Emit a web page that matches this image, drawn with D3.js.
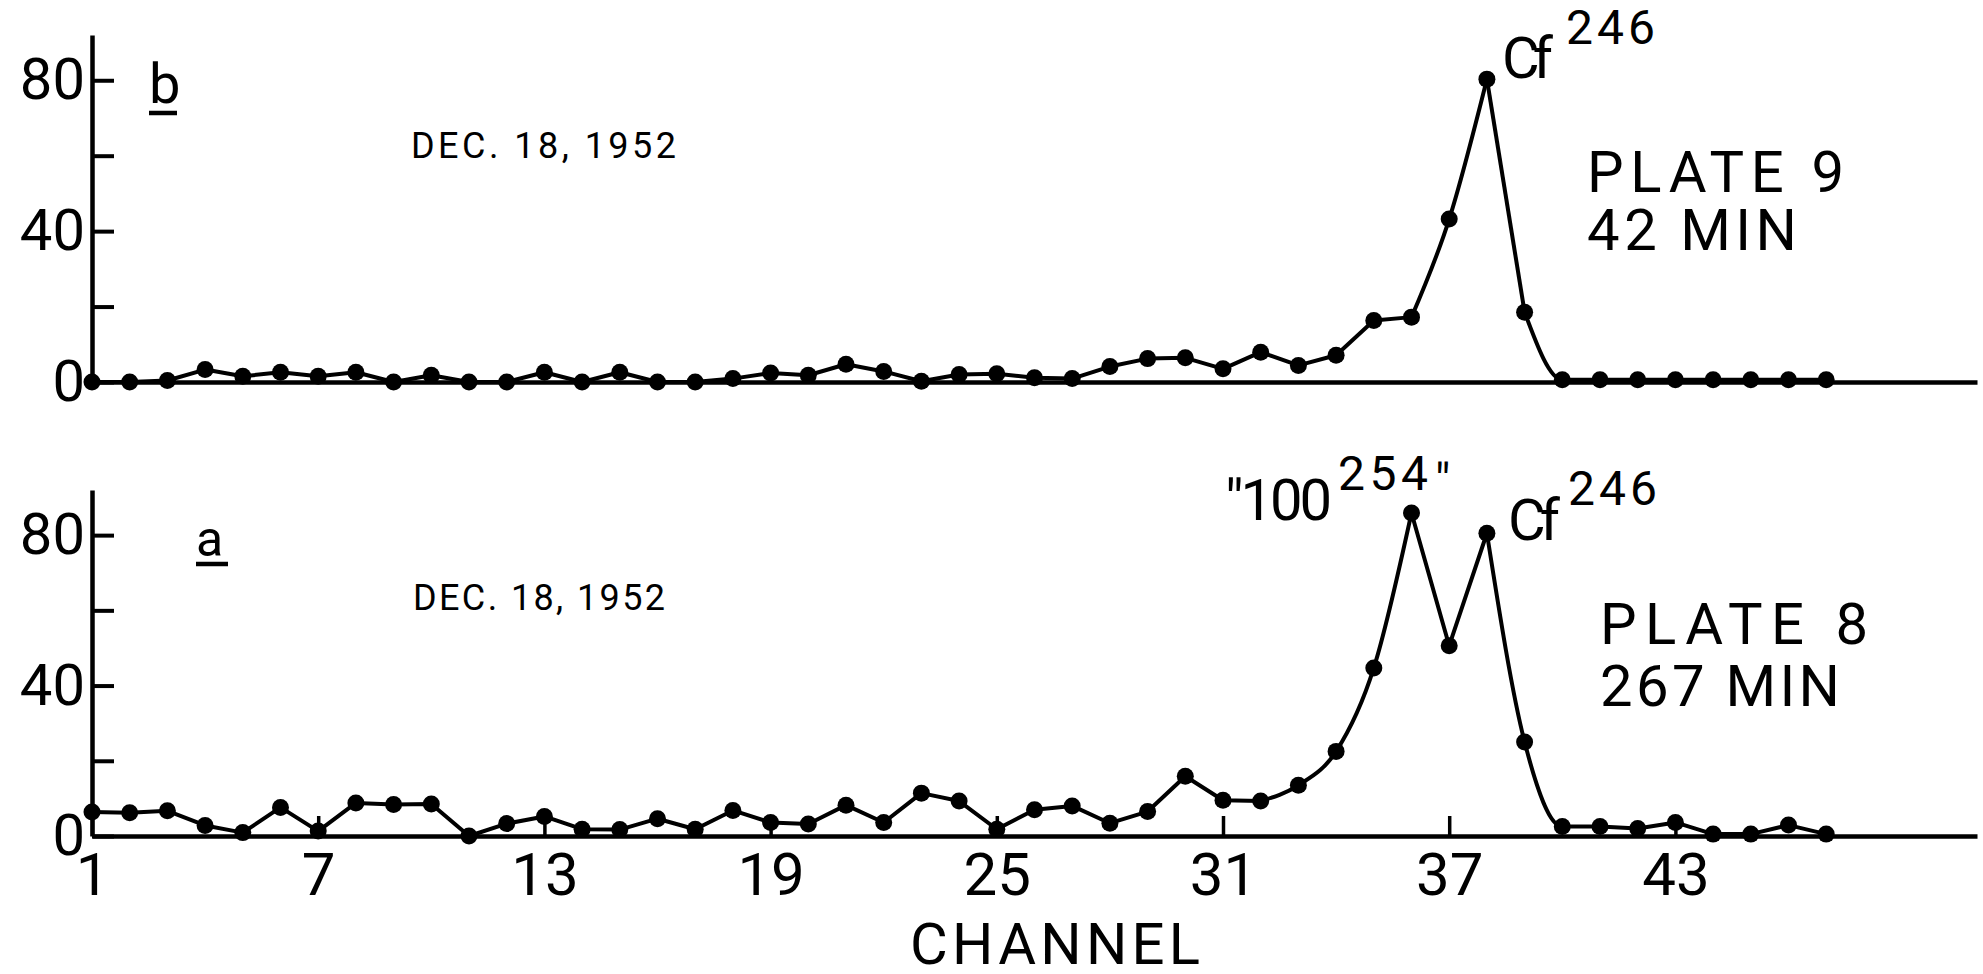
<!DOCTYPE html>
<html>
<head>
<meta charset="utf-8">
<script src="https://cdn.jsdelivr.net/npm/d3@7"></script>
<style>
  body { margin: 0; background: #fff; }
  svg { display: block; }
  text { font-family: Roboto, "Liberation Sans", sans-serif; font-weight: 400; fill: #000; }
</style>
</head>
<body>
<div id="chart"></div>
<script>
// Pulse height spectra, plates 9 and 8 (Dec. 18, 1952)

var channels = [1, 2, 3, 4, 5, 6, 7, 8, 9, 10, 11, 12, 13, 14, 15, 16, 17, 18, 19, 20,
    21, 22, 23, 24, 25, 26, 27, 28, 29, 30, 31, 32, 33, 34, 35, 36, 37, 38, 39, 40,
    41, 42, 43, 44, 45, 46, 47];

// panel b - plate 9, 42 min
var plate9 = [0, 0, 0.4, 3.3, 1.5, 2.6, 1.5, 2.6, 0, 1.8, 0, 0, 2.6, 0, 2.6, 0, 0,
    0.9, 2.4, 1.8, 4.7, 2.8, 0.2, 2.0, 2.2, 1.1, 0.9, 4.1, 6.2, 6.4, 3.5, 7.9, 4.4, 7.1,
    16.3, 17.2, 43.2, 80.3, 18.5, 0.6, 0.6, 0.6, 0.6, 0.6, 0.6, 0.6, 0.6];

// panel a - plate 8, 267 min
var plate8 = [6.4, 6.2, 6.7, 2.8, 0.9, 7.6, 1.3, 8.8, 8.4, 8.5, 0, 3.3, 5.2, 1.8, 1.7,
    4.6, 1.8, 6.8, 3.6, 3.2, 8.2, 3.6, 11.4, 9.3, 1.8, 7.0, 8.0, 3.4, 6.5, 15.9, 9.5, 9.3,
    13.5, 22.5, 44.7, 85.9, 50.6, 80.5, 25.0, 2.5, 2.5, 2.0, 3.6, 0.5, 0.5, 2.9, 0.5];

var xTicks = [1, 7, 13, 19, 25, 31, 37, 43];
var yTicks = [0, 20, 40, 60, 80];
var yLabels = [0, 40, 80];

var width = 1983, height = 974;

var svg = d3.select("#chart")
    .append("svg")
    .attr("width", width)
    .attr("height", height);

svg.append("rect").attr("width", width).attr("height", height).attr("fill", "#fff");

var x = d3.scaleLinear().domain([1, 51]).range([92, 1977]);

// which stretches of the trace are hand-smoothed, by channel
var panels = [
    { values: plate9, y: d3.scaleLinear().domain([0, 92]).range([382, 35]), labels: false,
      pieces: [[1, 36, "line"], [36, 38, "smooth"], [38, 39, "line"], [39, 47, "smooth"]] },
    { values: plate8, y: d3.scaleLinear().domain([0, 92]).range([836, 490]), labels: true,
      pieces: [[1, 32, "line"], [32, 36, "smooth"], [36, 38, "line"], [38, 41, "smooth"], [41, 47, "line"]] }
];

panels.forEach(function (p) {
    var pts = channels.map(function (c, i) { return { c: c, v: p.values[i] }; });

    // y axis, ticks pointing inward
    var ya = svg.append("g")
        .attr("transform", "translate(" + x(1) + ",0)")
        .call(d3.axisLeft(p.y)
            .tickValues(yTicks)
            .tickSize(-22)
            .tickSizeOuter(0)
            .tickPadding(7)
            .tickFormat(function (d) { return yLabels.indexOf(d) >= 0 ? d : ""; }));
    ya.select(".domain").attr("stroke-width", 4.5);
    ya.selectAll(".tick line").attr("stroke-width", 4);
    ya.selectAll(".tick text").attr("font-size", 58).attr("font-family", null);

    // baseline / channel axis
    var xa = svg.append("g")
        .attr("transform", "translate(0," + p.y(0) + ")")
        .call(d3.axisBottom(x)
            .tickValues(p.labels ? xTicks : [])
            .tickSize(p.labels ? -20 : 0)
            .tickSizeOuter(0)
            .tickPadding(16));
    xa.select(".domain").attr("stroke-width", 4.5);
    xa.selectAll(".tick line").attr("stroke-width", 3.5);
    xa.selectAll(".tick text").attr("font-size", 60).attr("font-family", null);

    // trace
    p.pieces.forEach(function (piece) {
        var seg = pts.filter(function (d) { return d.c >= piece[0] && d.c <= piece[1]; });
        svg.append("path")
            .datum(seg)
            .attr("fill", "none")
            .attr("stroke", "#000")
            .attr("stroke-width", 4)
            .attr("stroke-linejoin", "round")
            .attr("d", d3.line()
                .x(function (d) { return x(d.c); })
                .y(function (d) { return p.y(d.v); })
                .curve(piece[2] == "smooth" ? d3.curveMonotoneX : d3.curveLinear));
    });

    svg.append("g").selectAll("circle")
        .data(pts)
        .join("circle")
        .attr("cx", function (d) { return x(d.c); })
        .attr("cy", function (d) { return p.y(d.v); })
        .attr("r", 8.5)
        .attr("fill", "#000");
});

// labels
function label(txt, px, py, size, len) {
    var t = svg.append("text")
        .attr("x", px)
        .attr("y", py)
        .attr("font-size", size)
        .text(txt);
    if (len) t.attr("textLength", len).attr("lengthAdjust", "spacing");
    return t;
}
function underline(x1, x2, py) {
    svg.append("line")
        .attr("x1", x1).attr("x2", x2)
        .attr("y1", py).attr("y2", py)
        .attr("stroke", "#000")
        .attr("stroke-width", 4.5);
}

// panel b
label("b", 149, 103, 56);
underline(149, 177, 113);
label("DEC. 18, 1952", 411, 158, 36, 265);
label("Cf", 1502, 78, 58, 51);
label("246", 1566, 44, 48, 89);
label("PLATE 9", 1587, 192, 58, 257);
label("42 MIN", 1587, 250, 58, 210);

// panel a
label("a", 196, 556, 50);
underline(196, 228, 564);
label("DEC. 18, 1952", 413, 610, 36, 252);
label("\"100", 1225, 520, 58, 107);
label("254", 1338, 490, 48, 90);
label("\"", 1435, 498, 48);
label("Cf", 1508, 540, 58, 52);
label("246", 1568, 505, 48, 89);
label("PLATE 8", 1600, 644, 58, 268);
label("267 MIN", 1600, 706, 58, 240);

label("CHANNEL", 910, 964, 58, 290);
</script>
</body>
</html>
